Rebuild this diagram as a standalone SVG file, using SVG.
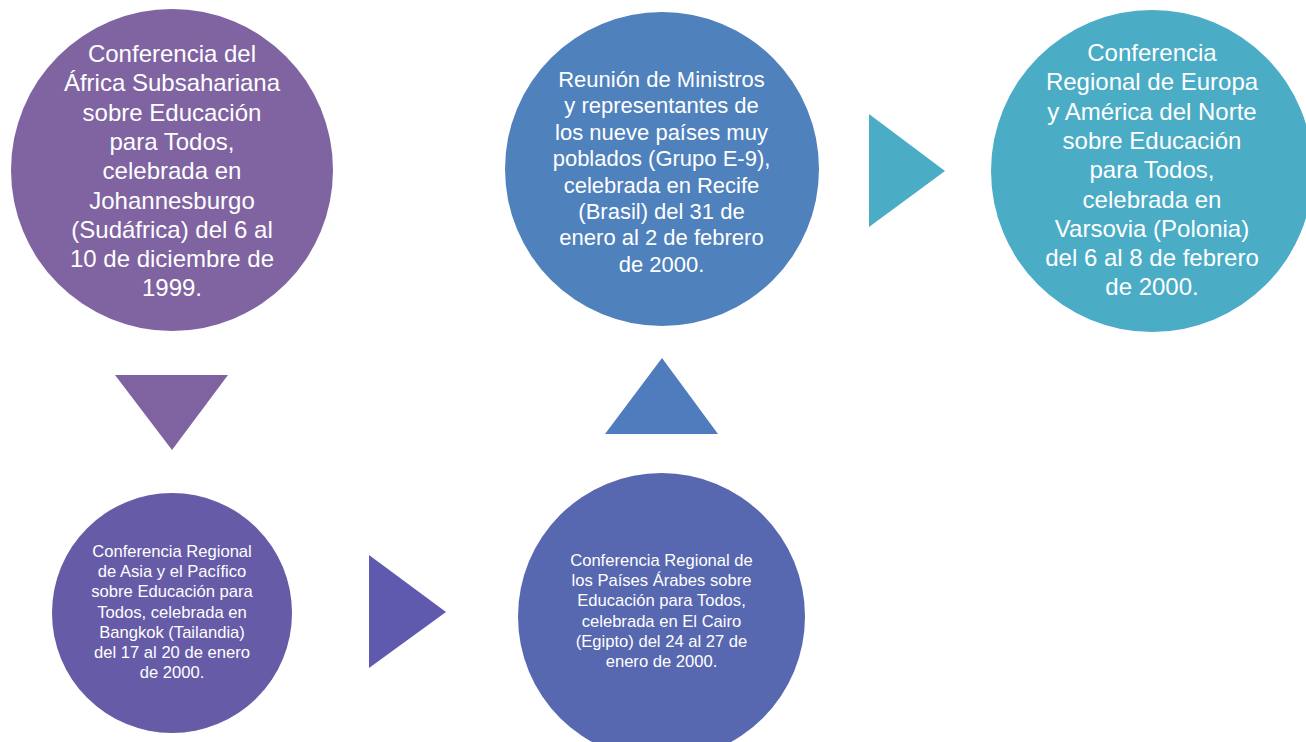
<svg xmlns="http://www.w3.org/2000/svg" width="1306" height="742" viewBox="0 0 1306 742">
<style>
text{font-family:"Liberation Sans",Arial,sans-serif;fill:#ffffff;text-anchor:middle}
.big{font-size:24px}
.mid{font-size:22px}
.sm{font-size:16.6px}
</style>
<rect width="1306" height="742" fill="#ffffff"/>
<g id="connectors">
<polygon points="115,375 228,375 172,450" fill="#7F63A1"/>
<polygon points="369,555 369,668 446,612" fill="#5F5AAE"/>
<polygon points="605,434 718,434 662,358" fill="#4F7CBD"/>
<polygon points="869,114 869,227 945,171" fill="#4BACC6"/>
</g>
<g id="n1">
<circle cx="172" cy="170" r="161" fill="#8064A2"/>
<text class="big"><tspan x="172" y="62">Conferencia del</tspan><tspan x="172" y="91.3">África Subsahariana</tspan><tspan x="172" y="120.6">sobre Educación</tspan><tspan x="172" y="149.9">para Todos,</tspan><tspan x="172" y="179.2">celebrada en</tspan><tspan x="172" y="208.5">Johannesburgo</tspan><tspan x="172" y="237.8">(Sudáfrica) del 6 al</tspan><tspan x="172" y="267.1">10 de diciembre de</tspan><tspan x="172" y="296.4">1999.</tspan></text>
</g>
<g id="n2">
<circle cx="172" cy="613" r="120" fill="#665BA7"/>
<text class="sm"><tspan x="172" y="557">Conferencia Regional</tspan><tspan x="172" y="577.2">de Asia y el Pacífico</tspan><tspan x="172" y="597.4">sobre Educación para</tspan><tspan x="172" y="617.6">Todos, celebrada en</tspan><tspan x="172" y="637.8">Bangkok (Tailandia)</tspan><tspan x="172" y="658">del 17 al 20 de enero</tspan><tspan x="172" y="678.2">de 2000.</tspan></text>
</g>
<g id="n3">
<circle cx="661.5" cy="616.5" r="143.5" fill="#5767B0"/>
<text class="sm"><tspan x="661.5" y="566">Conferencia Regional de</tspan><tspan x="661.5" y="586.2">los Países Árabes sobre</tspan><tspan x="661.5" y="606.4">Educación para Todos,</tspan><tspan x="661.5" y="626.6">celebrada en El Cairo</tspan><tspan x="661.5" y="646.8">(Egipto) del 24 al 27 de</tspan><tspan x="661.5" y="667">enero de 2000.</tspan></text>
</g>
<g id="n4">
<circle cx="662" cy="169" r="157" fill="#4F81BD"/>
<text class="mid"><tspan x="661.5" y="87">Reunión de Ministros</tspan><tspan x="661.5" y="113.4">y representantes de</tspan><tspan x="661.5" y="139.8">los nueve países muy</tspan><tspan x="661.5" y="166.2">poblados (Grupo E-9),</tspan><tspan x="661.5" y="192.6">celebrada en Recife</tspan><tspan x="661.5" y="219">(Brasil) del 31 de</tspan><tspan x="661.5" y="245.4">enero al 2 de febrero</tspan><tspan x="661.5" y="271.8">de 2000.</tspan></text>
</g>
<g id="n5">
<circle cx="1152" cy="171" r="161" fill="#4BACC6"/>
<text class="big"><tspan x="1152" y="61">Conferencia</tspan><tspan x="1152" y="90.3">Regional de Europa</tspan><tspan x="1152" y="119.6">y América del Norte</tspan><tspan x="1152" y="148.9">sobre Educación</tspan><tspan x="1152" y="178.2">para Todos,</tspan><tspan x="1152" y="207.5">celebrada en</tspan><tspan x="1152" y="236.8">Varsovia (Polonia)</tspan><tspan x="1152" y="266.1">del 6 al 8 de febrero</tspan><tspan x="1152" y="295.4">de 2000.</tspan></text>
</g>
</svg>
